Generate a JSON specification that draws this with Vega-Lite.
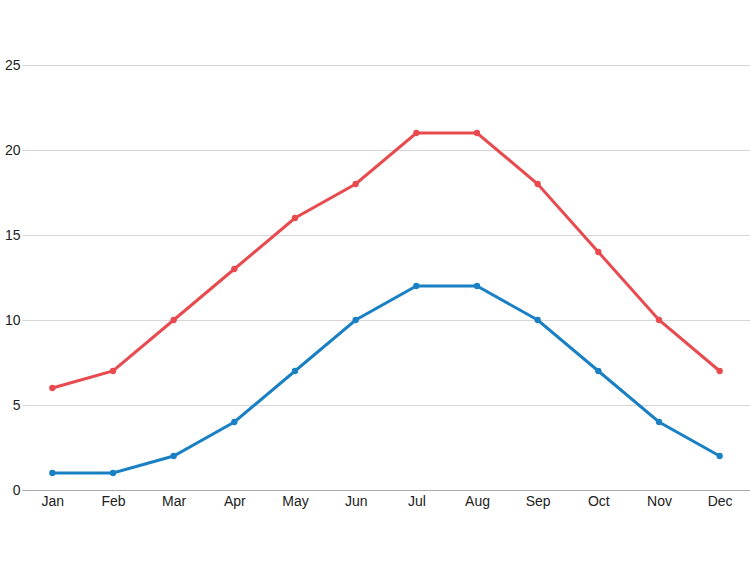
{
  "$schema": "https://vega.github.io/schema/vega-lite/v6.json",
  "autosize": {"type": "none"},
  "padding": {"left": 22, "top": 65, "right": 0, "bottom": 72},
  "width": 728,
  "height": 425,
  "background": "white",
  "config": {
    "view": {"stroke": null},
    "axis": {
      "labelFont": "Liberation Sans",
      "labelFontSize": 14,
      "labelColor": "#222222",
      "ticks": false,
      "title": null
    }
  },
  "data": {
    "values": [
      {"month": "Jan", "series": "high", "temp": 6},
      {"month": "Feb", "series": "high", "temp": 7},
      {"month": "Mar", "series": "high", "temp": 10},
      {"month": "Apr", "series": "high", "temp": 13},
      {"month": "May", "series": "high", "temp": 16},
      {"month": "Jun", "series": "high", "temp": 18},
      {"month": "Jul", "series": "high", "temp": 21},
      {"month": "Aug", "series": "high", "temp": 21},
      {"month": "Sep", "series": "high", "temp": 18},
      {"month": "Oct", "series": "high", "temp": 14},
      {"month": "Nov", "series": "high", "temp": 10},
      {"month": "Dec", "series": "high", "temp": 7},
      {"month": "Jan", "series": "low", "temp": 1},
      {"month": "Feb", "series": "low", "temp": 1},
      {"month": "Mar", "series": "low", "temp": 2},
      {"month": "Apr", "series": "low", "temp": 4},
      {"month": "May", "series": "low", "temp": 7},
      {"month": "Jun", "series": "low", "temp": 10},
      {"month": "Jul", "series": "low", "temp": 12},
      {"month": "Aug", "series": "low", "temp": 12},
      {"month": "Sep", "series": "low", "temp": 10},
      {"month": "Oct", "series": "low", "temp": 7},
      {"month": "Nov", "series": "low", "temp": 4},
      {"month": "Dec", "series": "low", "temp": 2}
    ]
  },
  "encoding": {
    "x": {
      "field": "month",
      "type": "ordinal",
      "sort": null,
      "scale": {"type": "point", "padding": 0.5},
      "axis": {
        "labelAngle": 0,
        "labelPadding": 4,
        "domainColor": "#aaaaaa",
        "grid": false
      }
    },
    "y": {
      "field": "temp",
      "type": "quantitative",
      "scale": {"domain": [0, 25]},
      "axis": {
        "values": [0, 5, 10, 15, 20, 25],
        "domain": false,
        "labelPadding": 2,
        "gridColor": "#d6d6d6",
        "gridWidth": 1
      }
    },
    "color": {
      "field": "series",
      "type": "nominal",
      "scale": {"domain": ["high", "low"], "range": ["#e84a4f", "#1a80c4"]},
      "legend": null
    }
  },
  "layer": [
    {"mark": {"type": "line", "strokeWidth": 3}},
    {"mark": {"type": "circle", "size": 40, "opacity": 1}}
  ]
}
